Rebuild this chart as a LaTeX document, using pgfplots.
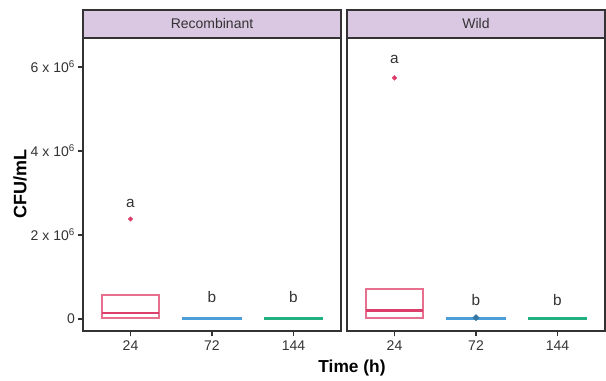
\documentclass[border=0pt]{standalone}
\usepackage{pgfplots}
\pgfplotsset{compat=1.18}
\usepgfplotslibrary{groupplots,statistics}
\usepackage{fontspec}
\setmainfont{Liberation Sans}
\definecolor{cred}{HTML}{DC3F6B}
\definecolor{cbox}{HTML}{E8708F}
\definecolor{cblue}{HTML}{4A9FD8}
\definecolor{cgreen}{HTML}{22B07E}
\definecolor{strip}{HTML}{DAC8E2}
\definecolor{frame}{HTML}{333333}
\begin{document}
\begin{tikzpicture}
\begin{groupplot}[
  group style={group size=2 by 1, horizontal sep=4.5pt},
  scale only axis,
  width=193.5pt, height=219.75pt,
  xmin=0.417, xmax=3.583,
  ymin=-0.286e6, ymax=6.69e6,
  xtick={1,2,3}, xticklabels={24,72,144},
  axis line style={frame, line width=1.1pt},
  tick style={frame, line width=0.8pt},
  tick align=outside, major tick length=4pt,
  xtick pos=bottom, ytick pos=left,
  ticklabel style={font=\fontsize{10.5}{12}\selectfont, text=black!80},
  yticklabel style={xshift=1.5pt},
  scaled y ticks=false,
  clip=false,
  boxplot/draw direction=y,
  boxplot/box extend=0.7,
  boxplot/whisker extend=0.01,
]
\nextgroupplot[
  ytick={0,2e6,4e6,6e6},
  yticklabels={0, 2 x 10\textsuperscript{6}, 4 x 10\textsuperscript{6}, 6 x 10\textsuperscript{6}},
  ylabel={\textbf{CFU/mL}},
  ylabel style={font=\fontsize{13.5}{15}\selectfont, at={(axis description cs:-0.2442,0.5)}, anchor=center},
]
\addplot[draw=cbox, line width=1pt, mark=*, mark size=1.3pt, mark options={fill=cred, draw=cred},
  boxplot/every median/.append style={line width=1.8pt, draw=cred},
  boxplot prepared={draw position=1, lower whisker=0.02e6, lower quartile=0.02e6, median=0.14e6, upper quartile=0.57e6, upper whisker=0.57e6}] coordinates {(0,2.38e6)};
\addplot[draw=cblue, line width=2pt,
  boxplot prepared={draw position=2, lower whisker=5000, lower quartile=5000, median=5000, upper quartile=6000, upper whisker=6000}] coordinates {};
\addplot[draw=cgreen, line width=2pt,
  boxplot prepared={draw position=3, lower whisker=10000, lower quartile=10000, median=10000, upper quartile=11000, upper whisker=11000}] coordinates {};
\node[font=\fontsize{11.5}{13}\selectfont, text=black!80] at (axis cs:1,2.76e6) {a};
\node[font=\fontsize{11.5}{13}\selectfont, text=black!80] at (axis cs:2,0.52e6) {b};
\node[font=\fontsize{11.5}{13}\selectfont, text=black!80] at (axis cs:3,0.52e6) {b};
\draw[frame, line width=1.1pt, fill=strip] (rel axis cs:0,1) rectangle ([yshift=21pt]rel axis cs:1,1);
\node[font=\fontsize{10.5}{12}\selectfont, text=black!80] at ([yshift=10.5pt]rel axis cs:0.5,1) {Recombinant};
\path ([xshift=-62.25pt,yshift=-36pt]rel axis cs:0,0) ([yshift=28.5pt]rel axis cs:0,1);
\nextgroupplot[
  ytick=\empty,
  xlabel={\textbf{Time (h)}},
  xlabel style={font=\fontsize{13}{15}\selectfont, at={(axis description cs:0.0194,-0.1263)}, anchor=center},
]
\addplot[draw=cbox, line width=1pt, mark=*, mark size=1.3pt, mark options={fill=cred, draw=cred},
  boxplot/every median/.append style={line width=1.8pt, draw=cred},
  boxplot prepared={draw position=1, lower whisker=0.02e6, lower quartile=0.02e6, median=0.2e6, upper quartile=0.71e6, upper whisker=0.71e6}] coordinates {(0,5.74e6)};
\addplot[draw=cblue, line width=2pt, mark=*, mark size=1.2pt, mark options={fill=cblue!75!black, draw=cblue!75!black},
  boxplot prepared={draw position=2, lower whisker=5000, lower quartile=5000, median=5000, upper quartile=6000, upper whisker=6000}] coordinates {(0,30000)};
\addplot[draw=cgreen, line width=2pt,
  boxplot prepared={draw position=3, lower whisker=5000, lower quartile=5000, median=5000, upper quartile=6000, upper whisker=6000}] coordinates {};
\node[font=\fontsize{11.5}{13}\selectfont, text=black!80] at (axis cs:1,6.17e6) {a};
\node[font=\fontsize{11.5}{13}\selectfont, text=black!80] at (axis cs:2,0.45e6) {b};
\node[font=\fontsize{11.5}{13}\selectfont, text=black!80] at (axis cs:3,0.45e6) {b};
\draw[frame, line width=1.1pt, fill=strip] (rel axis cs:0,1) rectangle ([yshift=21pt]rel axis cs:1,1);
\node[font=\fontsize{10.5}{12}\selectfont, text=black!80] at ([yshift=10.5pt]rel axis cs:0.5,1) {Wild};
\path ([xshift=0.75pt]rel axis cs:1,1);
\end{groupplot}
\end{tikzpicture}
\end{document}
